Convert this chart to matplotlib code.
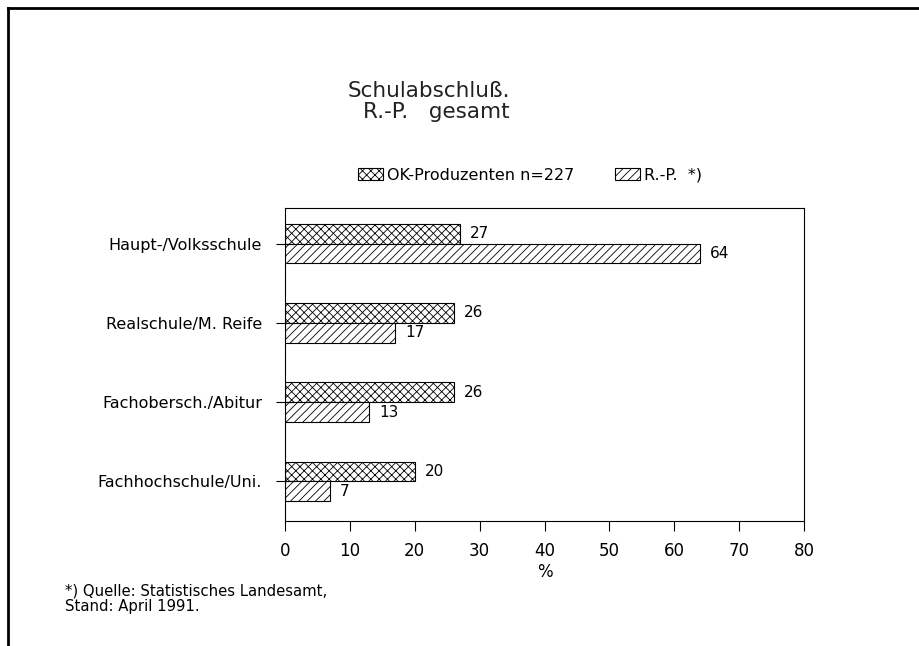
import matplotlib.pyplot as plt
import numpy as np

plt.rcParams['font.family'] = ['DejaVu Sans']
plt.rcParams['hatch.linewidth'] = 0.6

# =====================
# DATEN
# =====================

kategorien = ["Haupt-/Volksschule", "Realschule/M. Reife",
              "Fachobersch./Abitur", "Fachhochschule/Uni."]
ok_produzenten = [27, 26, 26, 20]
rp_gesamt = [64, 17, 13, 7]
serien = ["OK-Produzenten n=227", "R.-P.  *)"]
x_ticks = [0, 10, 20, 30, 40, 50, 60, 70, 80]

# =====================
# FIGUR
# =====================

fig = plt.figure(figsize=(9.2, 6.46), dpi=100)

# Rahmen der Seite (oben und links)
fig.add_artist(plt.Line2D([8 / 920, 1.0], [1 - 8 / 646, 1 - 8 / 646],
                          transform=fig.transFigure, color="black", lw=2))
fig.add_artist(plt.Line2D([8 / 920, 8 / 920], [0.0, 1 - 8 / 646],
                          transform=fig.transFigure, color="black", lw=2))

ax = fig.add_axes([285 / 920, 125 / 646, 519 / 920, 313 / 646])

y = np.arange(len(kategorien))
h = 0.25

b1 = ax.barh(y - h / 2, ok_produzenten, height=h, color="white",
             edgecolor="black", hatch="xxxx", linewidth=0.8, label=serien[0])
b2 = ax.barh(y + h / 2, rp_gesamt, height=h, color="white",
             edgecolor="black", hatch="////", linewidth=0.8, label=serien[1])

for yy, v in zip(y, ok_produzenten):
    ax.text(v + 1.5, yy - h / 2, str(v), va="center", ha="left", fontsize=11)
for yy, v in zip(y, rp_gesamt):
    ax.text(v + 1.5, yy + h / 2, str(v), va="center", ha="left", fontsize=11)

ax.set_xlim(0, 80)
ax.set_ylim(3.5, -0.45)
ax.set_xticks(x_ticks)
ax.set_xticklabels([str(t) for t in x_ticks], fontsize=12)
ax.set_yticks(y)
ax.set_yticklabels(kategorien, fontsize=11.5)
ax.tick_params(axis="x", length=7, width=0.8, pad=8)
ax.tick_params(axis="y", direction="inout", length=13, width=0.8, pad=10)
ax.set_xlabel("%", fontsize=12, labelpad=2)
for s in ax.spines.values():
    s.set_linewidth(0.8)

fig.text(348 / 920, 1 - 91 / 646, "Schulabschluß.", ha="left",
         va="center", fontsize=15.5, color="#222222")
fig.text(363 / 920, 1 - 112 / 646, "R.-P.   gesamt", ha="left",
         va="center", fontsize=15.5, color="#222222")

fig.legend(handles=[b1, b2], labels=serien, loc="center",
           bbox_to_anchor=(530 / 920, 1 - 175 / 646), ncol=2, frameon=False,
           fontsize=11.5, handlelength=1.55, handleheight=0.7,
           columnspacing=2.6, handletextpad=0.25)

fig.text(65 / 920, 1 - 599 / 646,
         "*) Quelle: Statistisches Landesamt,\nStand: April 1991.",
         ha="left", va="center", fontsize=10.7, linespacing=1.05)

fig.savefig("out.png", dpi=100)
